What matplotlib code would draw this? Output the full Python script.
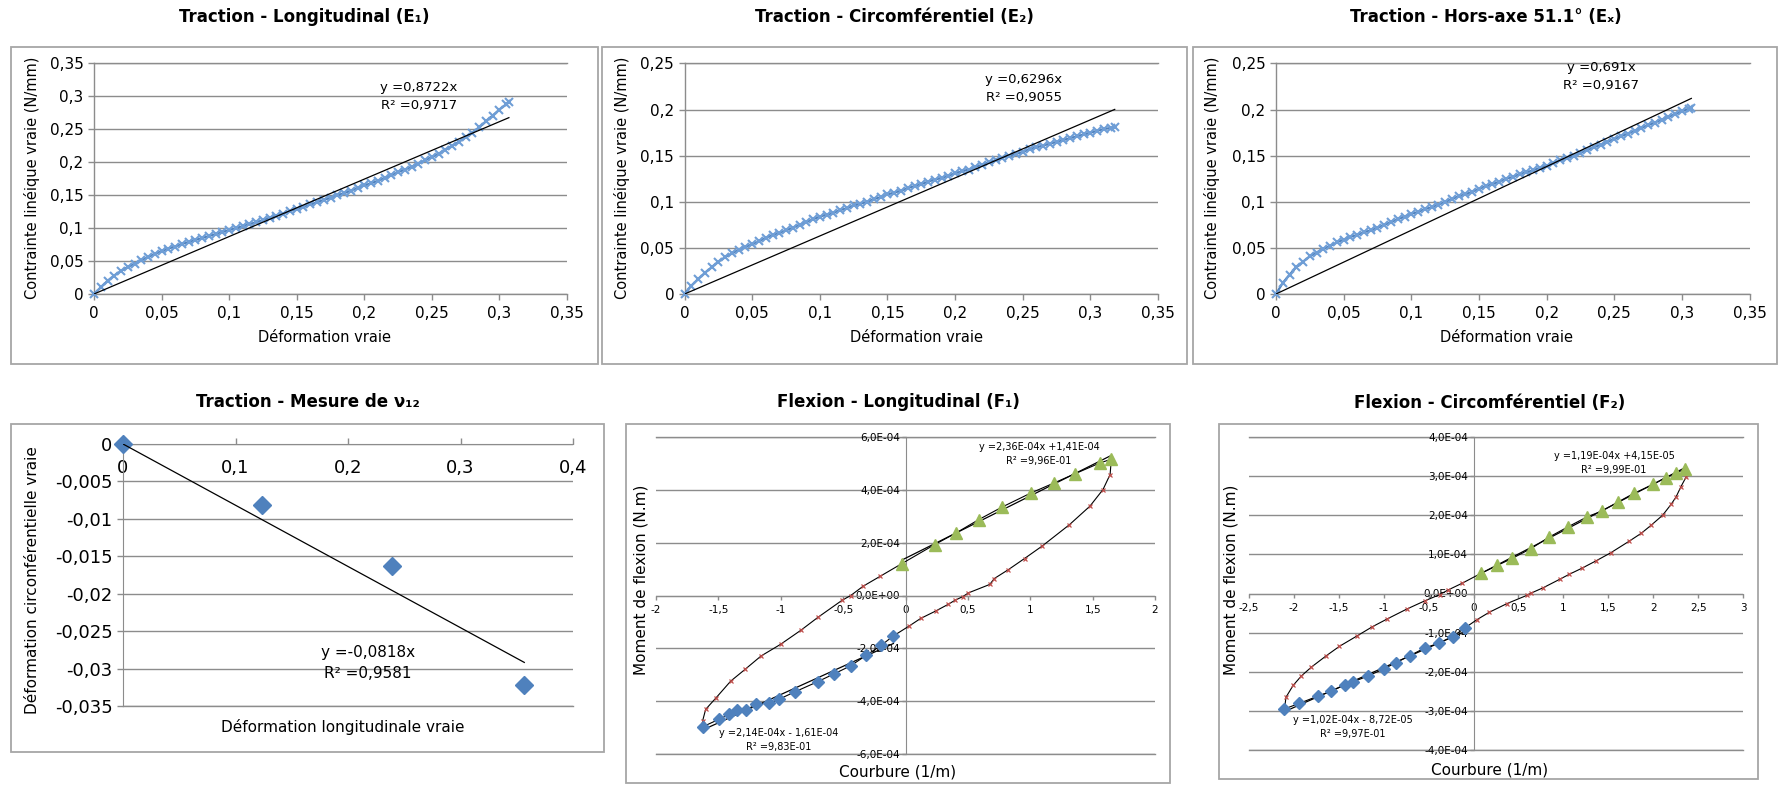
import matplotlib
matplotlib.use("Agg")
import matplotlib.pyplot as plt
from matplotlib.patches import Rectangle
import numpy as np

# ---------------- DATA ----------------
# Panel 1 : Traction - Longitudinal (E1)
e1_x = [0, 0.005, 0.010, 0.015, 0.020, 0.025, 0.030, 0.035, 0.040, 0.045, 0.050, 0.055, 0.060, 0.065,
        0.070, 0.075, 0.080, 0.085, 0.090, 0.095, 0.100, 0.105, 0.110, 0.115, 0.120, 0.125, 0.130,
        0.135, 0.140, 0.145, 0.150, 0.155, 0.160, 0.165, 0.170, 0.175, 0.180, 0.185, 0.190, 0.195,
        0.200, 0.205, 0.210, 0.215, 0.220, 0.225, 0.230, 0.235, 0.240, 0.245, 0.250, 0.255, 0.260,
        0.265, 0.270, 0.275, 0.280, 0.285, 0.290, 0.295, 0.300, 0.305, 0.307]
e1_y = [0, 0.010, 0.020, 0.028, 0.035, 0.041, 0.046, 0.051, 0.056, 0.061, 0.065, 0.069, 0.072, 0.076,
        0.079, 0.082, 0.085, 0.088, 0.091, 0.094, 0.097, 0.100, 0.103, 0.106, 0.109, 0.112, 0.116,
        0.119, 0.122, 0.126, 0.129, 0.132, 0.136, 0.139, 0.143, 0.146, 0.150, 0.153, 0.157, 0.161,
        0.165, 0.168, 0.172, 0.176, 0.180, 0.185, 0.189, 0.193, 0.198, 0.203, 0.208, 0.213, 0.219,
        0.225, 0.231, 0.238, 0.245, 0.253, 0.262, 0.271, 0.280, 0.288, 0.291]
e1_slope = 0.8722
e1_r2 = "0,9717"

# Panel 2 : Traction - Circonferentiel (E2)
e2_x = [0, 0.005, 0.010, 0.015, 0.020, 0.025, 0.030, 0.035, 0.040, 0.045, 0.050, 0.055, 0.060, 0.065,
        0.070, 0.075, 0.080, 0.085, 0.090, 0.095, 0.100, 0.105, 0.110, 0.115, 0.120, 0.125, 0.130,
        0.135, 0.140, 0.145, 0.150, 0.155, 0.160, 0.165, 0.170, 0.175, 0.180, 0.185, 0.190, 0.195,
        0.200, 0.205, 0.210, 0.215, 0.220, 0.225, 0.230, 0.235, 0.240, 0.245, 0.250, 0.255, 0.260,
        0.265, 0.270, 0.275, 0.280, 0.285, 0.290, 0.295, 0.300, 0.305, 0.310, 0.315, 0.318]
e2_y = [0, 0.009, 0.016, 0.023, 0.029, 0.035, 0.040, 0.044, 0.048, 0.051, 0.054, 0.057, 0.061, 0.064,
        0.066, 0.069, 0.072, 0.075, 0.078, 0.081, 0.084, 0.086, 0.088, 0.091, 0.093, 0.096, 0.098,
        0.100, 0.103, 0.105, 0.108, 0.110, 0.112, 0.115, 0.117, 0.119, 0.122, 0.124, 0.126, 0.128,
        0.131, 0.133, 0.135, 0.138, 0.140, 0.143, 0.145, 0.148, 0.150, 0.152, 0.154, 0.157, 0.159,
        0.161, 0.163, 0.165, 0.167, 0.169, 0.171, 0.173, 0.175, 0.177, 0.179, 0.180, 0.181]
e2_slope = 0.6296
e2_r2 = "0,9055"

# Panel 3 : Traction - Hors-axe 51.1 (Ex)
ex_x = [0, 0.005, 0.010, 0.015, 0.020, 0.025, 0.030, 0.035, 0.040, 0.045, 0.050, 0.055, 0.060, 0.065,
        0.070, 0.075, 0.080, 0.085, 0.090, 0.095, 0.100, 0.105, 0.110, 0.115, 0.120, 0.125, 0.130,
        0.135, 0.140, 0.145, 0.150, 0.155, 0.160, 0.165, 0.170, 0.175, 0.180, 0.185, 0.190, 0.195,
        0.200, 0.205, 0.210, 0.215, 0.220, 0.225, 0.230, 0.235, 0.240, 0.245, 0.250, 0.255, 0.260,
        0.265, 0.270, 0.275, 0.280, 0.285, 0.290, 0.295, 0.300, 0.305, 0.307]
ex_y = [0, 0.012, 0.021, 0.029, 0.035, 0.041, 0.045, 0.049, 0.052, 0.056, 0.059, 0.062, 0.064, 0.067,
        0.069, 0.072, 0.075, 0.078, 0.081, 0.084, 0.087, 0.089, 0.092, 0.094, 0.097, 0.100, 0.103,
        0.106, 0.108, 0.111, 0.114, 0.117, 0.119, 0.122, 0.125, 0.127, 0.130, 0.132, 0.134, 0.137,
        0.139, 0.142, 0.145, 0.147, 0.150, 0.153, 0.156, 0.159, 0.162, 0.165, 0.168, 0.171, 0.174,
        0.177, 0.180, 0.183, 0.186, 0.189, 0.192, 0.195, 0.198, 0.201, 0.202]
ex_slope = 0.691
ex_r2 = "0,9167"

# Panel 4 : Traction - Mesure de nu12
nu_x = [0.0, 0.1237, 0.2393, 0.3567]
nu_y = [0.0, -0.0082, -0.0163, -0.0322]
nu_slope = -0.0818
nu_r2 = "0,9581"

# Panel 5 : Flexion - Longitudinal (F1)
f1_green_x = [-0.028, 0.235, 0.406, 0.586, 0.775, 1.005, 1.191, 1.359, 1.560, 1.650]
f1_green_y = [1.21e-4, 1.93e-4, 2.37e-4, 2.87e-4, 3.35e-4, 3.88e-4, 4.26e-4, 4.61e-4, 5.02e-4, 5.16e-4]
f1_red_right_x = [1.640, 1.583, 1.478, 1.314, 1.095, 0.954, 0.825, 0.711, 0.676, 0.505, 0.460, 0.397,
                  0.340, 0.241, 0.121, 0.031]
f1_red_right_y = [4.58e-4, 4.01e-4, 3.38e-4, 2.68e-4, 1.87e-4, 1.40e-4, 0.98e-4, 0.64e-4, 0.42e-4,
                  0.10e-4, -0.04e-4, -0.18e-4, -0.34e-4, -0.59e-4, -0.87e-4, -1.15e-4]
f1_blue_x = [-0.097, -0.193, -0.313, -0.439, -0.574, -0.703, -0.883, -1.011, -1.092, -1.197, -1.278,
             -1.353, -1.413, -1.497, -1.626]
f1_blue_y = [-1.53e-4, -1.88e-4, -2.26e-4, -2.66e-4, -2.97e-4, -3.26e-4, -3.64e-4, -3.92e-4, -4.08e-4,
             -4.11e-4, -4.34e-4, -4.34e-4, -4.50e-4, -4.69e-4, -4.97e-4]
f1_red_left_x = [-1.626, -1.602, -1.518, -1.401, -1.287, -1.158, -1.002, -0.837, -0.703, -0.508,
                 -0.439, -0.340, -0.202]
f1_red_left_y = [-4.74e-4, -4.31e-4, -3.87e-4, -3.24e-4, -2.80e-4, -2.29e-4, -1.85e-4, -1.31e-4,
                 -0.83e-4, -0.18e-4, 0.0, 0.35e-4, 0.73e-4]
f1_fit_up = (2.36e-4, 1.41e-4)
f1_fit_down = (2.14e-4, -1.61e-4)

# Panel 6 : Flexion - Circonferentiel (F2)
f2_green_x = [0.087, 0.266, 0.433, 0.641, 0.840, 1.057, 1.265, 1.431, 1.610, 1.785, 2.001, 2.138,
              2.250, 2.358]
f2_green_y = [0.52e-4, 0.72e-4, 0.90e-4, 1.15e-4, 1.44e-4, 1.71e-4, 1.96e-4, 2.11e-4, 2.34e-4,
              2.56e-4, 2.79e-4, 2.96e-4, 3.07e-4, 3.19e-4]
f2_red_right_x = [2.367, 2.309, 2.255, 2.200, 2.105, 1.980, 1.868, 1.735, 1.527, 1.360, 1.210, 1.065,
                  0.965, 0.778, 0.641, 0.591, 0.370, 0.175, 0.037]
f2_red_right_y = [2.98e-4, 2.73e-4, 2.47e-4, 2.28e-4, 2.00e-4, 1.75e-4, 1.54e-4, 1.34e-4, 1.04e-4,
                  0.83e-4, 0.65e-4, 0.49e-4, 0.37e-4, 0.15e-4, 0.01e-4, -0.05e-4, -0.26e-4,
                  -0.48e-4, -0.67e-4]
f2_blue_x = [-0.096, -0.233, -0.387, -0.541, -0.711, -0.865, -1.002, -1.177, -1.343, -1.431, -1.585,
             -1.730, -1.943, -2.105]
f2_blue_y = [-0.88e-4, -1.10e-4, -1.27e-4, -1.39e-4, -1.59e-4, -1.77e-4, -1.93e-4, -2.11e-4,
             -2.26e-4, -2.33e-4, -2.50e-4, -2.62e-4, -2.81e-4, -2.95e-4]
f2_red_left_x = [-2.088, -2.009, -1.918, -1.805, -1.639, -1.493, -1.294, -1.127, -0.961, -0.745,
                 -0.545, -0.379, -0.283, -0.129]
f2_red_left_y = [-2.65e-4, -2.35e-4, -2.11e-4, -1.88e-4, -1.59e-4, -1.35e-4, -1.08e-4, -0.85e-4,
                 -0.65e-4, -0.40e-4, -0.19e-4, -0.03e-4, 0.09e-4, 0.26e-4]
f2_fit_up = (1.19e-4, 4.15e-5)
f2_fit_down = (1.02e-4, -8.72e-5)

# Tick labels
trac_xticks = [0, 0.05, 0.1, 0.15, 0.2, 0.25, 0.3, 0.35]
trac_xlabels = ["0", "0,05", "0,1", "0,15", "0,2", "0,25", "0,3", "0,35"]
e1_yticks = [0, 0.05, 0.1, 0.15, 0.2, 0.25, 0.3, 0.35]
e1_ylabels = ["0", "0,05", "0,1", "0,15", "0,2", "0,25", "0,3", "0,35"]
e2_yticks = [0, 0.05, 0.1, 0.15, 0.2, 0.25]
e2_ylabels = ["0", "0,05", "0,1", "0,15", "0,2", "0,25"]
nu_xticks = [0, 0.1, 0.2, 0.3, 0.4]
nu_xlabels = ["0", "0,1", "0,2", "0,3", "0,4"]
nu_yticks = [0, -0.005, -0.01, -0.015, -0.02, -0.025, -0.03, -0.035]
nu_ylabels = ["0", "-0,005", "-0,01", "-0,015", "-0,02", "-0,025", "-0,03", "-0,035"]
f1_xticks = [-2, -1.5, -1, -0.5, 0, 0.5, 1, 1.5, 2]
f1_xlabels = ["-2", "-1,5", "-1", "-0,5", "0", "0,5", "1", "1,5", "2"]
f1_yticks = [6e-4, 4e-4, 2e-4, 0, -2e-4, -4e-4, -6e-4]
f1_ylabels = ["6,0E-04", "4,0E-04", "2,0E-04", "0,0E+00", "-2,0E-04", "-4,0E-04", "-6,0E-04"]
f2_xticks = [-2.5, -2, -1.5, -1, -0.5, 0, 0.5, 1, 1.5, 2, 2.5, 3]
f2_xlabels = ["-2,5", "-2", "-1,5", "-1", "-0,5", "0", "0,5", "1", "1,5", "2", "2,5", "3"]
f2_yticks = [4e-4, 3e-4, 2e-4, 1e-4, 0, -1e-4, -2e-4, -3e-4, -4e-4]
f2_ylabels = ["4,0E-04", "3,0E-04", "2,0E-04", "1,0E-04", "0,0E+00", "-1,0E-04", "-2,0E-04",
              "-3,0E-04", "-4,0E-04"]

# ---------------- STYLE ----------------
plt.rcParams['font.family'] = ['DejaVu Sans']
W, H = 1780, 785
BLUE = '#4F81BD'
BLUE_X = '#6F9ED6'
RED = '#C0504D'
GREEN = '#9BBB59'
GRID = '#8C8C8C'
FRAME = '#A6A6A6'

fig = plt.figure(figsize=(W / 100, H / 100), dpi=100)
fig.patch.set_facecolor('white')


def add_ax(x0, x1, y0, y1):
    return fig.add_axes([x0 / W, 1 - y1 / H, (x1 - x0) / W, (y1 - y0) / H])


def frame(x0, x1, y0, y1):
    fig.add_artist(Rectangle((x0 / W, 1 - y1 / H), (x1 - x0) / W, (y1 - y0) / H,
                             transform=fig.transFigure, fill=False, ec=FRAME, lw=1.3))


def ftext(x, y, s, **kw):
    fig.text(x / W, 1 - y / H, s, **kw)


def title(x, y, s):
    ftext(x, y, s, ha='center', va='center', fontsize=12, fontweight='bold')


def bottom_grid(ax, y, x0, x1):
    ax.plot([x0, x1], [y, y], color=GRID, lw=1.0, clip_on=False, zorder=0.5)


def style_trac(ax, yticks, ylabels, ymax):
    ax.set_xlim(0, 0.35)
    ax.set_ylim(0, ymax)
    ax.set_xticks(trac_xticks)
    ax.set_xticklabels(trac_xlabels)
    ax.set_yticks(yticks)
    ax.set_yticklabels(ylabels)
    for s in ['top', 'right']:
        ax.spines[s].set_visible(False)
    for s in ['left', 'bottom']:
        ax.spines[s].set_color(GRID)
        ax.spines[s].set_linewidth(1.0)
    ax.tick_params(axis='both', colors=GRID, labelcolor='black', labelsize=11, length=4, width=1.0)
    ax.tick_params(axis='x', pad=5)
    ax.grid(axis='y', color=GRID, lw=1.0)
    ax.set_axisbelow(True)
    ax.patch.set_alpha(0)
    bottom_grid(ax, ymax, 0, 0.35)


def trac_panel(box, frm, xs, ys, slope, r2, yticks, ylabels, ymax, ttl, ttl_pos, eq_pos, xl_pos, yl_pos):
    frame(*frm)
    ax = add_ax(*box)
    style_trac(ax, yticks, ylabels, ymax)
    ax.plot(xs, ys, color=BLUE, lw=1.6, marker='x', ms=5.5, mew=1.5, mec=BLUE_X, clip_on=False, zorder=3)
    xf = np.array([0, max(xs)])
    ax.plot(xf, slope * xf, color='black', lw=0.9, zorder=4)
    title(*ttl_pos, ttl)
    ftext(eq_pos[0], eq_pos[1], "y =" + ("%g" % slope).replace('.', ',') + "x", ha='center', va='center',
          fontsize=9.5)
    ftext(eq_pos[0], eq_pos[1] + 18, "R² =" + r2, ha='center', va='center', fontsize=9.5)
    ftext(xl_pos[0], xl_pos[1], "Déformation vraie", ha='center', va='center', fontsize=10.5)
    ftext(yl_pos[0], yl_pos[1], "Contrainte linéique vraie (N/mm)", ha='center', va='center',
          fontsize=10.5, rotation=90)
    return ax


trac_panel((94, 567, 63.5, 294), (11, 598, 47, 364), e1_x, e1_y, e1_slope, e1_r2, e1_yticks, e1_ylabels, 0.35,
           "Traction - Longitudinal (E₁)", (304, 17), (419, 88), (325, 338), (32, 178))
trac_panel((684.6, 1158, 63.5, 294), (601.5, 1187, 47, 364), e2_x, e2_y, e2_slope, e2_r2, e2_yticks, e2_ylabels,
           0.25, "Traction - Circomférentiel (E₂)", (894, 17), (1024, 79), (917, 338), (622, 178))
trac_panel((1276, 1749.5, 63.5, 294), (1192.6, 1777, 47, 364), ex_x, ex_y, ex_slope, ex_r2, e2_yticks,
           e2_ylabels, 0.25, "Traction - Hors-axe 51.1° (Eₓ)", (1486, 17), (1601, 68), (1507, 338),
           (1212, 178))

# ---------------- Panel 4 ----------------
frame(11, 604, 424, 752)
ax4 = add_ax(123, 573, 444, 706)
ax4.set_xlim(0, 0.4)
ax4.set_ylim(-0.035, 0)
ax4.set_xticks(nu_xticks)
ax4.set_xticklabels(nu_xlabels)
ax4.set_yticks(nu_yticks)
ax4.set_yticklabels(nu_ylabels)
for s in ['top', 'right']:
    ax4.spines[s].set_visible(False)
ax4.spines['bottom'].set_position(('data', 0))
for s in ['left', 'bottom']:
    ax4.spines[s].set_color(GRID)
ax4.tick_params(axis='both', colors=GRID, labelcolor='black', labelsize=13, width=1.0)
ax4.tick_params(axis='x', direction='in', length=4, pad=11)
ax4.tick_params(axis='y', direction='out', length=4)
ax4.grid(axis='y', color=GRID, lw=1.0)
ax4.set_axisbelow(True)
ax4.patch.set_alpha(0)
bottom_grid(ax4, -0.035, 0, 0.4)
ax4.plot(nu_x, nu_y, ls='none', marker='D', ms=9, color=BLUE, clip_on=False, zorder=3)
xf = np.array([0, max(nu_x)])
ax4.plot(xf, nu_slope * xf, color='black', lw=0.9, zorder=4)
title(308, 402, "Traction - Mesure de ν₁₂")
ftext(368, 653, "y =" + ("%g" % nu_slope).replace('.', ',') + "x", ha='center', va='center', fontsize=11)
ftext(368, 674, "R² =" + nu_r2, ha='center', va='center', fontsize=11)
ftext(343, 727, "Déformation longitudinale vraie", ha='center', va='center', fontsize=11)
ftext(33, 580, "Déformation circonférentielle vraie", ha='center', va='center', fontsize=11, rotation=90)


# ---------------- Flexion panels ----------------
def flex_panel(box, frm, xlim, ylim, xticks, xlabels, yticks, ylabels,
               gx, gy, rrx, rry, bx, by, rlx, rly, fit_up, fit_down,
               ttl, ttl_pos, eq_up, eq_down, xl_pos, yl_pos):
    frame(*frm)
    ax = add_ax(*box)
    ax.set_xlim(*xlim)
    ax.set_ylim(*ylim)
    ax.set_xticks(xticks)
    ax.set_xticklabels(xlabels)
    ax.set_yticks(yticks)
    ax.set_yticklabels(ylabels)
    for s in ['top', 'right']:
        ax.spines[s].set_visible(False)
    ax.spines['bottom'].set_position(('data', 0))
    ax.spines['left'].set_position(('data', 0))
    for s in ['left', 'bottom']:
        ax.spines[s].set_color(GRID)
    ax.tick_params(axis='both', colors=GRID, labelcolor='black', labelsize=7.5, width=1.0, length=3,
                   direction='out')
    ax.tick_params(axis='x', pad=4)
    ax.tick_params(axis='y', pad=1)
    ax.grid(axis='y', color=GRID, lw=1.0)
    ax.set_axisbelow(True)
    ax.patch.set_alpha(0)
    bottom_grid(ax, ylim[0], xlim[0], xlim[1])
    bottom_grid(ax, ylim[1], xlim[0], xlim[1])
    # loop line (black) through all measured points
    lx = list(gx) + list(rrx) + list(bx) + list(rlx) + [gx[0]]
    ly = list(gy) + list(rry) + list(by) + list(rly) + [gy[0]]
    ax.plot(lx, ly, color='black', lw=0.8, zorder=3)
    # fits
    xu = np.array([min(gx), max(gx)])
    ax.plot(xu, fit_up[0] * xu + fit_up[1], color='black', lw=0.9, zorder=3)
    xd = np.array([min(bx), max(bx)])
    ax.plot(xd, fit_down[0] * xd + fit_down[1], color='black', lw=0.9, zorder=3)
    # markers
    ax.plot(rrx, rry, ls='none', marker='x', ms=3.5, mew=0.9, color=RED, zorder=4)
    ax.plot(rlx, rly, ls='none', marker='x', ms=3.5, mew=0.9, color=RED, zorder=4)
    ax.plot(gx, gy, ls='none', marker='^', ms=8, color=GREEN, zorder=5, clip_on=False)
    ax.plot(bx, by, ls='none', marker='D', ms=6, color=BLUE, zorder=5, clip_on=False)
    title(*ttl_pos, ttl)

    def fmt(v):
        m, e = ("%.2E" % v).split('E')
        return m.replace('.', ',') + "E" + e

    def eq(a, b):
        sgn = " +" if b >= 0 else " - "
        return "y =" + fmt(a) + "x" + sgn + fmt(abs(b))

    ftext(eq_up[0], eq_up[1], eq(*fit_up), ha='center', va='center', fontsize=7)
    ftext(eq_up[0], eq_up[1] + 14, "R² =" + eq_up[2], ha='center', va='center', fontsize=7)
    ftext(eq_down[0], eq_down[1], eq(*fit_down), ha='center', va='center', fontsize=7)
    ftext(eq_down[0], eq_down[1] + 14, "R² =" + eq_down[2], ha='center', va='center', fontsize=7)
    ftext(xl_pos[0], xl_pos[1], "Courbure (1/m)", ha='center', va='center', fontsize=11)
    ftext(yl_pos[0], yl_pos[1], "Moment de flexion (N.m)", ha='center', va='center', fontsize=11,
          rotation=90)


flex_panel((656, 1155, 437, 754), (626, 1170, 424, 783), (-2, 2), (-6e-4, 6e-4), f1_xticks, f1_xlabels,
           f1_yticks, f1_ylabels, f1_green_x, f1_green_y, f1_red_right_x, f1_red_right_y, f1_blue_x,
           f1_blue_y, f1_red_left_x, f1_red_left_y, f1_fit_up, f1_fit_down,
           "Flexion - Longitudinal (F₁)", (898, 402), (1039, 447, "9,96E-01"), (779, 733, "9,83E-01"),
           (898, 772), (641, 580))
flex_panel((1249, 1743, 437, 750), (1219, 1758, 424, 779), (-2.5, 3), (-4e-4, 4e-4), f2_xticks, f2_xlabels,
           f2_yticks, f2_ylabels, f2_green_x, f2_green_y, f2_red_right_x, f2_red_right_y, f2_blue_x,
           f2_blue_y, f2_red_left_x, f2_red_left_y, f2_fit_up, f2_fit_down,
           "Flexion - Circomférentiel (F₂)", (1490, 403), (1614, 456, "9,99E-01"), (1353, 720, "9,97E-01"),
           (1490, 770), (1231, 580))

fig.savefig("out.png", dpi=100)
